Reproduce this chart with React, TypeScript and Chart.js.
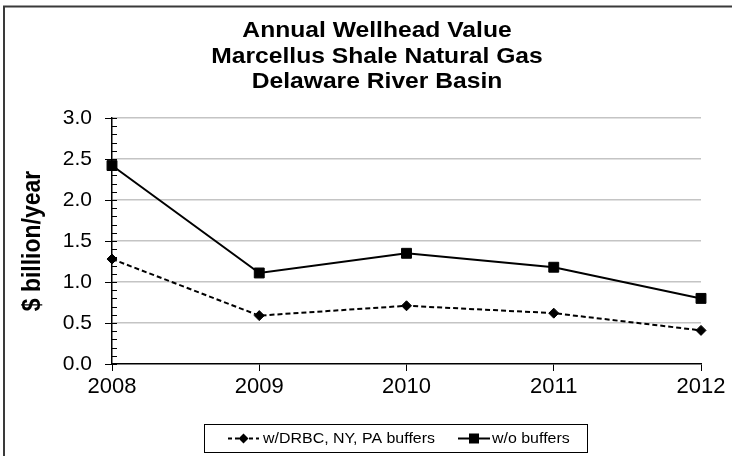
import { useEffect, useRef } from 'react';
import { Chart, registerables } from 'chart.js';

Chart.register(...registerables);

const TITLE_LINES = ['Annual Wellhead Value', 'Marcellus Shale Natural Gas', 'Delaware River Basin'];
const Y_TITLE = '$ billion/year';
const YEARS = ['2008', '2009', '2010', '2011', '2012'];
const WITH_BUFFERS = [1.28, 0.59, 0.71, 0.62, 0.41];
const WITHOUT_BUFFERS = [2.42, 1.11, 1.35, 1.18, 0.8];
const SERIES_LABELS = ['w/DRBC, NY, PA buffers', 'w/o buffers'];
const Y_MIN = 0;
const Y_MAX = 3;
const Y_STEP = 0.5;
const Y_MINOR_STEP = 0.1;

const FONT = '"Liberation Sans", Arial, sans-serif';
const SX = 1.12;

function stretchedText(ctx: CanvasRenderingContext2D, text: string, x: number, y: number, sx: number, align: CanvasTextAlign) {
  ctx.save();
  ctx.translate(x, y);
  ctx.scale(sx, 1);
  ctx.textAlign = align;
  ctx.fillText(text, 0, 0);
  ctx.restore();
}

const decor = {
  id: 'decor',
  afterDraw(chart: any) {
    const ctx: CanvasRenderingContext2D = chart.ctx;
    const ys = chart.scales.y;
    const area = chart.chartArea;
    ctx.save();

    // outer frame (top and left)
    ctx.strokeStyle = '#3a3a3a';
    ctx.lineWidth = 2;
    ctx.beginPath();
    ctx.moveTo(4, 460);
    ctx.lineTo(4, 6.5);
    ctx.lineTo(740, 6.5);
    ctx.stroke();

    // y-axis tick marks (major and minor)
    ctx.strokeStyle = '#000';
    ctx.lineWidth = 1;
    const ax = area.left;
    const n = Math.round((Y_MAX - Y_MIN) / Y_MINOR_STEP);
    const per = Math.round(Y_STEP / Y_MINOR_STEP);
    for (let i = 0; i <= n; i++) {
      const py = Math.round(ys.getPixelForValue(Y_MIN + i * Y_MINOR_STEP)) + 0.5;
      const major = i % per === 0;
      ctx.beginPath();
      ctx.moveTo(major ? ax - 7 : ax, py);
      ctx.lineTo(ax + 5, py);
      ctx.stroke();
    }

    // title
    ctx.fillStyle = '#000';
    ctx.font = `bold 22px ${FONT}`;
    ctx.textBaseline = 'alphabetic';
    const baselines = [37, 62.5, 88];
    TITLE_LINES.forEach((t, i) => stretchedText(ctx, t, 377, baselines[i], SX, 'center'));

    // y title
    ctx.save();
    ctx.translate(33, 241);
    ctx.rotate(-Math.PI / 2);
    ctx.scale(1, SX);
    ctx.font = `bold 23px ${FONT}`;
    ctx.textAlign = 'center';
    ctx.textBaseline = 'middle';
    ctx.fillText(Y_TITLE, 0, 0);
    ctx.restore();

    // legend
    ctx.strokeStyle = '#000';
    ctx.lineWidth = 1;
    ctx.strokeRect(204.5, 424.5, 383, 28);
    const ly = 438.5;
    // item 1
    ctx.lineWidth = 2;
    ctx.setLineDash([4, 3]);
    ctx.beginPath();
    ctx.moveTo(228, ly);
    ctx.lineTo(259, ly);
    ctx.stroke();
    ctx.setLineDash([]);
    ctx.beginPath();
    ctx.moveTo(243.5 - 5, ly);
    ctx.lineTo(243.5, ly - 5);
    ctx.lineTo(243.5 + 5, ly);
    ctx.lineTo(243.5, ly + 5);
    ctx.closePath();
    ctx.fill();
    // item 2
    ctx.beginPath();
    ctx.moveTo(458, ly);
    ctx.lineTo(490, ly);
    ctx.stroke();
    ctx.fillRect(474 - 5, ly - 5, 10, 10);
    ctx.font = `14.5px ${FONT}`;
    ctx.textBaseline = 'middle';
    stretchedText(ctx, SERIES_LABELS[0], 263, ly, 1.1, 'left');
    stretchedText(ctx, SERIES_LABELS[1], 492, ly, 1.1, 'left');

    ctx.restore();
  },
};

export default function App() {
  const ref = useRef<HTMLCanvasElement | null>(null);
  useEffect(() => {
    document.body.style.margin = '0';
    const canvas = ref.current;
    if (!canvas) return;
    const chart = new Chart(canvas, {
      type: 'line',
      data: {
        labels: YEARS,
        datasets: [
          {
            label: SERIES_LABELS[0],
            data: WITH_BUFFERS,
            borderColor: '#000',
            backgroundColor: '#000',
            borderWidth: 2,
            borderDash: [5, 3],
            pointStyle: 'rectRot',
            pointRadius: 5,
            pointHoverRadius: 5,
            pointBackgroundColor: '#000',
            pointBorderColor: '#000',
            pointBorderWidth: 1,
            tension: 0,
            clip: false,
          },
          {
            label: SERIES_LABELS[1],
            data: WITHOUT_BUFFERS,
            borderColor: '#000',
            backgroundColor: '#000',
            borderWidth: 2,
            pointStyle: 'rect',
            pointRadius: 7,
            pointHoverRadius: 7,
            pointBackgroundColor: '#000',
            pointBorderColor: '#000',
            pointBorderWidth: 1,
            tension: 0,
            clip: false,
          },
        ],
      },
      options: {
        responsive: false,
        animation: false,
        devicePixelRatio: 1,
        layout: { padding: { top: 118, right: 31, left: 0, bottom: 0 } },
        plugins: {
          legend: { display: false },
          title: { display: false },
          tooltip: { enabled: false },
        },
        scales: {
          x: {
            type: 'category',
            offset: false,
            grid: {
              drawOnChartArea: false,
              drawTicks: true,
              tickLength: 7,
              color: '#000',
              lineWidth: 1,
            },
            border: { display: true, color: '#000', width: 1.5 },
            ticks: {
              color: '#000',
              font: { family: FONT, size: 22 },
              padding: 3,
              maxRotation: 0,
            },
            afterFit: (s: any) => {
              s.height = 92;
            },
          },
          y: {
            min: Y_MIN,
            max: Y_MAX,
            grid: {
              drawTicks: false,
              color: (c: any) => (c.tick && c.tick.value === 0 ? 'rgba(0,0,0,0)' : '#c4c4c4'),
              lineWidth: 1.5,
            },
            border: { display: true, color: '#000', width: 1.5 },
            ticks: {
              stepSize: Y_STEP,
              color: '#000',
              font: { family: FONT, size: 21 },
              padding: 20,
              callback: (v: any) => Number(v).toFixed(1),
            },
            afterFit: (s: any) => {
              s.width = 112;
            },
          },
        },
      },
      plugins: [decor],
    });
    return () => chart.destroy();
  }, []);
  return <canvas ref={ref} width={732} height={456} style={{ display: 'block' }} />;
}
